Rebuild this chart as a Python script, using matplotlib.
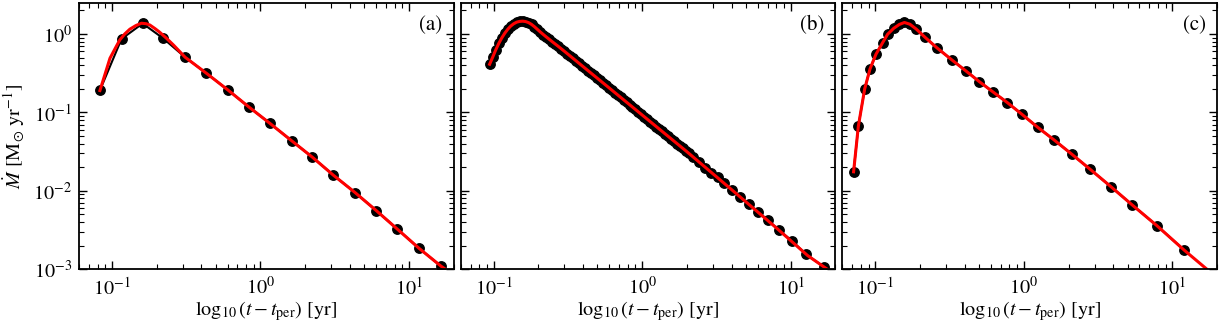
import matplotlib
matplotlib.use("Agg")
import matplotlib.pyplot as plt

plt.rcParams["font.family"] = ["STIXGeneral", "Liberation Serif", "DejaVu Serif"]
plt.rcParams["mathtext.fontset"] = "stix"
plt.rcParams["font.size"] = 14.5
plt.rcParams["axes.linewidth"] = 1.3

# panel (a): sparse sampling
xa = [0.083, 0.116, 0.161, 0.221, 0.311, 0.433, 0.604, 0.832, 1.157, 1.62,
      2.24, 3.09, 4.34, 6.04, 8.37, 11.7, 16.4]
ya = [0.191, 0.863, 1.36, 0.88, 0.505, 0.315, 0.193, 0.118, 0.0726, 0.0436,
      0.0268, 0.0159, 0.0095, 0.00558, 0.00324, 0.00185, 0.0011]
xa_fit = [0.083, 0.090, 0.097, 0.105, 0.113, 0.122, 0.132, 0.145, 0.158, 0.170,
          0.180, 0.195, 0.210, 0.233, 0.26, 0.311, 0.433, 0.604, 0.832, 1.157,
          1.62, 2.24, 3.09, 4.34, 6.04, 8.37, 11.7, 16.4, 20.0]
ya_fit = [0.19, 0.31, 0.49, 0.65, 0.84, 1.0, 1.15, 1.28, 1.37, 1.35,
          1.30, 1.17, 1.05, 0.88, 0.72, 0.505, 0.315, 0.193, 0.118, 0.0726,
          0.0436, 0.0268, 0.0159, 0.0095, 0.00558, 0.00324, 0.00185, 0.0011, 0.00085]

# panel (b): dense sampling
xb = [0.094, 0.0989, 0.1035, 0.1084, 0.1135, 0.1189, 0.1245, 0.1303, 0.1365, 0.1429,
      0.1496, 0.1567, 0.1641, 0.1718, 0.1799, 0.1884, 0.1972, 0.2065, 0.2163, 0.2265,
      0.2371, 0.2483, 0.2600, 0.2723, 0.2851, 0.2985, 0.3126, 0.3273, 0.3428, 0.3589,
      0.3758, 0.3936, 0.4121, 0.4315, 0.4519, 0.4732, 0.4955, 0.5188, 0.5433, 0.5689,
      0.5957, 0.6237, 0.6531, 0.6839, 0.7161, 0.7499, 0.7852, 0.8222, 0.8610, 0.9016,
      0.9441, 0.9886, 1.035, 1.084, 1.135, 1.189, 1.245, 1.303, 1.365, 1.429,
      1.496, 1.567, 1.641, 1.718, 1.799, 1.884, 1.972, 2.065, 2.213, 2.43,
      2.63, 2.92, 3.23, 3.58, 4.03, 4.57, 5.23, 6.01, 7.02, 8.32,
      10.2, 12.7, 16.9]
yb = [0.411, 0.514, 0.631, 0.759, 0.891, 1.023, 1.148, 1.259, 1.349, 1.413,
      1.445, 1.455, 1.439, 1.396, 1.324, 1.236, 1.143, 1.057, 0.982, 0.914,
      0.853, 0.796, 0.743, 0.695, 0.649, 0.604, 0.562, 0.524, 0.488, 0.454,
      0.423, 0.394, 0.366, 0.341, 0.318, 0.296, 0.275, 0.256, 0.239, 0.222,
      0.207, 0.193, 0.179, 0.167, 0.156, 0.145, 0.135, 0.126, 0.117, 0.109,
      0.101, 0.0944, 0.0879, 0.0818, 0.0762, 0.0710, 0.0661, 0.0615, 0.0573, 0.0533,
      0.0497, 0.0462, 0.0431, 0.0401, 0.0373, 0.0348, 0.0324, 0.0301, 0.0270, 0.0235,
      0.0197, 0.0171, 0.0149, 0.01248, 0.01025, 0.00828, 0.0068, 0.00542, 0.00425, 0.00317,
      0.00231, 0.00155, 0.00106]
xb_fit = [0.094, 0.0989, 0.1035, 0.1084, 0.1135, 0.1189, 0.1245, 0.1303, 0.1365, 0.1429,
          0.1496, 0.1567, 0.1641, 0.1718, 0.1799, 0.1884, 0.1972, 0.2065, 0.2265, 0.2483,
          0.2723, 0.30, 0.40, 0.60, 1.0, 2.0, 4.0, 8.0, 13.0, 20.0]
yb_fit = [0.411, 0.514, 0.631, 0.759, 0.891, 1.023, 1.148, 1.259, 1.349, 1.413,
          1.445, 1.455, 1.439, 1.396, 1.324, 1.236, 1.143, 1.057, 0.914, 0.796,
          0.695, 0.600, 0.384, 0.205, 0.0927, 0.0316, 0.01038, 0.00338, 0.0015, 0.00085]

# panel (c): dense around the peak
xc = [0.0714, 0.0769, 0.0848, 0.0921, 0.101, 0.112, 0.121, 0.133, 0.145, 0.157,
      0.171, 0.188, 0.216, 0.259, 0.328, 0.408, 0.501, 0.616, 0.776, 0.971,
      1.24, 1.60, 2.11, 2.80, 3.86, 5.34, 7.87, 12.0]
yc = [0.0175, 0.0671, 0.199, 0.358, 0.551, 0.774, 0.991, 1.18, 1.34, 1.44,
      1.34, 1.16, 0.908, 0.669, 0.466, 0.337, 0.247, 0.184, 0.133, 0.0946,
      0.0646, 0.0445, 0.0292, 0.0188, 0.0113, 0.00667, 0.0036, 0.00176]
xc_fit = [0.0714, 0.0769, 0.0848, 0.0921, 0.101, 0.112, 0.121, 0.133, 0.145, 0.157,
          0.171, 0.188, 0.216, 0.259, 0.328, 0.408, 0.501, 0.616, 0.776, 0.971,
          1.24, 1.60, 2.11, 2.80, 3.86, 5.34, 7.87, 12.0, 20.0]
yc_fit = [0.0175, 0.0671, 0.199, 0.358, 0.551, 0.774, 0.991, 1.18, 1.32, 1.40,
          1.33, 1.16, 0.908, 0.669, 0.466, 0.337, 0.247, 0.184, 0.133, 0.0946,
          0.0646, 0.0445, 0.0292, 0.0188, 0.0113, 0.00667, 0.0036, 0.00176, 0.00078]

panels = [("(a)", xa, ya, xa_fit, ya_fit),
          ("(b)", xb, yb, xb_fit, yb_fit),
          ("(c)", xc, yc, xc_fit, yc_fit)]

fig, axes = plt.subplots(1, 3, figsize=(12.19, 3.23), dpi=100, sharey=True)
fig.subplots_adjust(left=0.0648, right=0.9984, bottom=0.1662, top=0.9907, wspace=0.0187)

for ax, (lab, x, y, xf, yf) in zip(axes, panels):
    ax.plot(x, y, "o-", color="k", ms=6.8, lw=1.5)
    ax.plot(xf, yf, "-", color="red", lw=2.2)
    ax.set_xscale("log")
    ax.set_yscale("log")
    ax.set_xlim(0.06, 20)
    ax.set_ylim(1e-3, 2.48)
    ax.tick_params(which="both", direction="in", top=True, right=True, labelsize=14.5)
    ax.tick_params(which="major", length=6, width=1.0, pad=5)
    ax.tick_params(which="minor", length=3.5, width=0.8)
    ax.set_xlabel(r"$\log_{10}(t-t_{\rm per})$ [yr]", fontsize=14.5)
    ax.xaxis.set_label_coords(0.5, -0.157)
    ax.xaxis.label.set_va("center")
    ax.text(0.97, 0.955, lab, transform=ax.transAxes, ha="right", va="top", fontsize=15)

axes[0].set_ylabel(r"$\dot{M}$ [M$_{\odot}$ yr$^{-1}$]", fontsize=14.5)
axes[0].yaxis.set_label_coords(-0.173, 0.5)
axes[0].yaxis.label.set_va("center")

fig.savefig("out.png", dpi=100)
